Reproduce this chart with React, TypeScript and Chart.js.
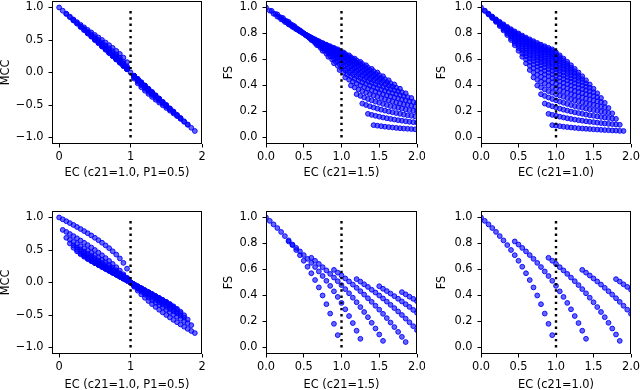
import { useEffect, useRef } from "react";
import { Chart, registerables } from "chart.js";

Chart.register(...registerables);

const FONT = "'DejaVu Sans', sans-serif";
const FSIZE = 11.4;

// ---------- EC contributions (x values) ----------
const ecFN = [0, 0.05, 0.1, 0.15, 0.2, 0.25, 0.3, 0.35, 0.4, 0.45, 0.5, 0.55, 0.6, 0.65, 0.7, 0.75, 0.8, 0.85, 0.9, 0.95];
const ecFNc15 = [0, 0.075, 0.15, 0.225, 0.3, 0.375, 0.45, 0.525, 0.6, 0.675, 0.75, 0.825, 0.9, 0.975, 1.05, 1.125, 1.2, 1.275, 1.35, 1.425];
const ecFP = [0, 0.05, 0.1, 0.15, 0.2, 0.25, 0.3, 0.35, 0.4, 0.45, 0.5, 0.55, 0.6, 0.65, 0.7, 0.75, 0.8, 0.85, 0.9, 0.95];
const ecTopLeft = [0, 0.05, 0.1, 0.15, 0.2, 0.25, 0.3, 0.35, 0.4, 0.45, 0.5, 0.55, 0.6, 0.65, 0.7, 0.75, 0.8, 0.85, 0.9, 0.95, 1.0, 1.05, 1.1, 1.15, 1.2, 1.25, 1.3, 1.35, 1.4, 1.45, 1.5, 1.55, 1.6, 1.65, 1.7, 1.75, 1.8, 1.85, 1.9];
const ecFPBottomLeft = [0, 0.05, 0.1, 0.15, 0.2, 0.25, 0.3, 0.35, 0.4, 0.45, 0.5, 0.55, 0.6, 0.65, 0.7, 0.75, 0.8, 0.85, 0.9, 0.95];
const ecFPBottomMid = [0, 0.3, 0.6, 0.9, 1.2, 1.5, 1.8];
const ecFPBottomRight = [0, 0.45, 0.9, 1.35, 1.8];

// ---------- tick values ----------
const mccTicks = [-1, -0.5, 0, 0.5, 1];
const fsTicks = [0, 0.2, 0.4, 0.6, 0.8, 1];
const ecTicksMCC = [0, 1, 2];
const ecTicksFS = [0, 0.5, 1, 1.5, 2];

// ---------- top-left: MCC values at each EC value ----------
const mccTopLeft = [
  [1.0], [0.951], [0.9, 0.905], [0.851, 0.86], [0.8, 0.804, 0.816], [0.751, 0.759, 0.775],
  [0.7, 0.704, 0.714, 0.734], [0.651, 0.657, 0.671, 0.694], [0.6, 0.603, 0.612, 0.629, 0.655],
  [0.551, 0.556, 0.568, 0.587, 0.616], [0.5, 0.503, 0.51, 0.524, 0.546, 0.577],
  [0.451, 0.455, 0.465, 0.48, 0.504, 0.539], [0.4, 0.402, 0.408, 0.419, 0.436, 0.462, 0.5],
  [0.35, 0.354, 0.361, 0.374, 0.392, 0.419, 0.461], [0.3, 0.302, 0.306, 0.314, 0.327, 0.346, 0.375, 0.42],
  [0.25, 0.253, 0.258, 0.267, 0.28, 0.299, 0.329, 0.378], [0.2, 0.201, 0.204, 0.21, 0.218, 0.231, 0.25, 0.28, 0.333],
  [0.15, 0.152, 0.155, 0.16, 0.168, 0.18, 0.197, 0.227, 0.285], [0.1, 0.1, 0.102, 0.105, 0.109, 0.115, 0.125, 0.14, 0.167, 0.229],
  [0.05, 0.051, 0.052, 0.053, 0.056, 0.06, 0.066, 0.076, 0.095, 0.16], [0],
  [-0.05, -0.051, -0.052, -0.053, -0.056, -0.06, -0.066, -0.076, -0.095],
  [-0.1, -0.1, -0.102, -0.105, -0.109, -0.115, -0.125, -0.14, -0.167],
  [-0.15, -0.152, -0.155, -0.16, -0.168, -0.18, -0.197, -0.227],
  [-0.2, -0.201, -0.204, -0.21, -0.218, -0.231, -0.25, -0.28],
  [-0.25, -0.253, -0.258, -0.267, -0.28, -0.299, -0.329],
  [-0.3, -0.302, -0.306, -0.314, -0.327, -0.346, -0.375],
  [-0.35, -0.354, -0.361, -0.374, -0.392, -0.419],
  [-0.4, -0.402, -0.408, -0.419, -0.436, -0.462],
  [-0.451, -0.455, -0.465, -0.48, -0.504], [-0.5, -0.503, -0.51, -0.524, -0.546],
  [-0.551, -0.556, -0.568, -0.587], [-0.6, -0.603, -0.612, -0.629],
  [-0.651, -0.657, -0.671], [-0.7, -0.704, -0.714], [-0.751, -0.759], [-0.8, -0.804], [-0.851], [-0.9],
];

// ---------- top-middle & top-right: FS (rows = FN count, columns = FP count) ----------
const fsTop = [
  [1.0, 0.976, 0.952, 0.93, 0.909, 0.889, 0.87, 0.851, 0.833, 0.816, 0.8, 0.784, 0.769, 0.755, 0.741, 0.727, 0.714, 0.702, 0.69, 0.678],
  [0.974, 0.95, 0.927, 0.905, 0.884, 0.864, 0.844, 0.826, 0.809, 0.792, 0.776, 0.76, 0.745, 0.731, 0.717, 0.704, 0.691, 0.679, 0.667, 0.655],
  [0.947, 0.923, 0.9, 0.878, 0.857, 0.837, 0.818, 0.8, 0.783, 0.766, 0.75, 0.735, 0.72, 0.706, 0.692, 0.679, 0.667, 0.655, 0.643, 0.632],
  [0.919, 0.895, 0.872, 0.85, 0.829, 0.81, 0.791, 0.773, 0.756, 0.739, 0.723, 0.708, 0.694, 0.68, 0.667, 0.654, 0.642, 0.63, 0.618, 0.607],
  [0.889, 0.865, 0.842, 0.821, 0.8, 0.78, 0.762, 0.744, 0.727, 0.711, 0.696, 0.681, 0.667, 0.653, 0.64, 0.627, 0.615, 0.604, 0.593, 0.582],
  [0.857, 0.833, 0.811, 0.789, 0.769, 0.75, 0.732, 0.714, 0.698, 0.682, 0.667, 0.652, 0.638, 0.625, 0.612, 0.6, 0.588, 0.577, 0.566, 0.556],
  [0.824, 0.8, 0.778, 0.757, 0.737, 0.718, 0.7, 0.683, 0.667, 0.651, 0.636, 0.622, 0.609, 0.596, 0.583, 0.571, 0.56, 0.549, 0.538, 0.528],
  [0.788, 0.765, 0.743, 0.722, 0.703, 0.684, 0.667, 0.65, 0.634, 0.619, 0.605, 0.591, 0.578, 0.565, 0.553, 0.542, 0.531, 0.52, 0.51, 0.5],
  [0.75, 0.727, 0.706, 0.686, 0.667, 0.649, 0.632, 0.615, 0.6, 0.585, 0.571, 0.558, 0.545, 0.533, 0.522, 0.511, 0.5, 0.49, 0.48, 0.471],
  [0.71, 0.688, 0.667, 0.647, 0.629, 0.611, 0.595, 0.579, 0.564, 0.55, 0.537, 0.524, 0.512, 0.5, 0.489, 0.478, 0.468, 0.458, 0.449, 0.44],
  [0.667, 0.645, 0.625, 0.606, 0.588, 0.571, 0.556, 0.541, 0.526, 0.513, 0.5, 0.488, 0.476, 0.465, 0.455, 0.444, 0.435, 0.426, 0.417, 0.408],
  [0.621, 0.6, 0.581, 0.563, 0.545, 0.529, 0.514, 0.5, 0.486, 0.474, 0.462, 0.45, 0.439, 0.429, 0.419, 0.409, 0.4, 0.391, 0.383, 0.375],
  [0.571, 0.552, 0.533, 0.516, 0.5, 0.485, 0.471, 0.457, 0.444, 0.432, 0.421, 0.41, 0.4, 0.39, 0.381, 0.372, 0.364, 0.356, 0.348, 0.34],
  [0.519, 0.5, 0.483, 0.467, 0.452, 0.438, 0.424, 0.412, 0.4, 0.389, 0.378, 0.368, 0.359, 0.35, 0.341, 0.333, 0.326, 0.318, 0.311, 0.304],
  [0.462, 0.444, 0.429, 0.414, 0.4, 0.387, 0.375, 0.364, 0.353, 0.343, 0.333, 0.324, 0.316, 0.308, 0.3, 0.293, 0.286, 0.279, 0.273, 0.267],
  [0.4, 0.385, 0.37, 0.357, 0.345, 0.333, 0.323, 0.313, 0.303, 0.294, 0.286, 0.278, 0.27, 0.263, 0.256, 0.25, 0.244, 0.238, 0.233, 0.227],
  [0.333, 0.32, 0.308, 0.296, 0.286, 0.276, 0.267, 0.258, 0.25, 0.242, 0.235, 0.229, 0.222, 0.216, 0.211, 0.205, 0.2, 0.195, 0.19, 0.186],
  [0.261, 0.25, 0.24, 0.231, 0.222, 0.214, 0.207, 0.2, 0.194, 0.188, 0.182, 0.176, 0.171, 0.167, 0.162, 0.158, 0.154, 0.15, 0.146, 0.143],
  [0.182, 0.174, 0.167, 0.16, 0.154, 0.148, 0.143, 0.138, 0.133, 0.129, 0.125, 0.121, 0.118, 0.114, 0.111, 0.108, 0.105, 0.103, 0.1, 0.098],
  [0.095, 0.091, 0.087, 0.083, 0.08, 0.077, 0.074, 0.071, 0.069, 0.067, 0.065, 0.063, 0.061, 0.059, 0.057, 0.056, 0.054, 0.053, 0.051, 0.05],
];

// ---------- bottom-left: MCC (rows = FP step, columns = FN count) ----------
const mccBottom = [
  [1.0, 0.972, 0.943, 0.914, 0.885, 0.854, 0.823, 0.791, 0.758, 0.724, 0.688, 0.651, 0.612, 0.571, 0.528, 0.48, 0.429, 0.37, 0.302, 0.213],
  [0.809, 0.778, 0.746, 0.714, 0.68, 0.646, 0.611, 0.575, 0.538, 0.5, 0.46, 0.419, 0.376, 0.332, 0.285, 0.235, 0.183, 0.126, 0.066, 0.0],
  [0.688, 0.657, 0.625, 0.592, 0.559, 0.525, 0.491, 0.456, 0.42, 0.383, 0.346, 0.307, 0.268, 0.227, 0.185, 0.141, 0.096, 0.049, 0.0, -0.051],
  [0.601, 0.57, 0.539, 0.507, 0.475, 0.442, 0.409, 0.375, 0.341, 0.306, 0.27, 0.234, 0.197, 0.16, 0.121, 0.082, 0.041, 0.0, -0.043, -0.086],
  [0.535, 0.504, 0.473, 0.442, 0.41, 0.379, 0.346, 0.314, 0.281, 0.248, 0.214, 0.18, 0.145, 0.11, 0.074, 0.037, 0.0, -0.038, -0.076, -0.116],
  [0.48, 0.45, 0.42, 0.389, 0.358, 0.327, 0.296, 0.264, 0.233, 0.2, 0.168, 0.135, 0.102, 0.068, 0.034, 0.0, -0.035, -0.07, -0.106, -0.143],
  [0.435, 0.405, 0.375, 0.345, 0.314, 0.284, 0.253, 0.222, 0.191, 0.16, 0.129, 0.097, 0.065, 0.033, 0.0, -0.033, -0.066, -0.1, -0.134, -0.168],
  [0.396, 0.366, 0.336, 0.306, 0.276, 0.246, 0.216, 0.185, 0.155, 0.124, 0.093, 0.063, 0.031, 0.0, -0.032, -0.063, -0.095, -0.128, -0.16, -0.193],
  [0.361, 0.331, 0.302, 0.272, 0.242, 0.212, 0.182, 0.152, 0.122, 0.091, 0.061, 0.031, 0.0, -0.031, -0.062, -0.092, -0.124, -0.155, -0.186, -0.218],
  [0.33, 0.3, 0.27, 0.24, 0.21, 0.18, 0.15, 0.12, 0.09, 0.06, 0.03, 0.0, -0.03, -0.06, -0.091, -0.121, -0.152, -0.182, -0.213, -0.244],
  [0.302, 0.271, 0.241, 0.211, 0.18, 0.15, 0.12, 0.09, 0.06, 0.03, 0.0, -0.03, -0.06, -0.09, -0.12, -0.15, -0.18, -0.211, -0.241, -0.271],
  [0.275, 0.244, 0.213, 0.182, 0.152, 0.121, 0.091, 0.06, 0.03, 0.0, -0.03, -0.06, -0.09, -0.12, -0.15, -0.18, -0.21, -0.24, -0.27, -0.3],
  [0.25, 0.218, 0.186, 0.155, 0.124, 0.092, 0.062, 0.031, 0.0, -0.031, -0.061, -0.091, -0.122, -0.152, -0.182, -0.212, -0.242, -0.272, -0.302, -0.331],
  [0.226, 0.193, 0.16, 0.128, 0.095, 0.063, 0.032, 0.0, -0.031, -0.063, -0.093, -0.124, -0.155, -0.185, -0.216, -0.246, -0.276, -0.306, -0.336, -0.366],
  [0.203, 0.168, 0.134, 0.1, 0.066, 0.033, 0.0, -0.033, -0.065, -0.097, -0.129, -0.16, -0.191, -0.222, -0.253, -0.284, -0.314, -0.345, -0.375, -0.405],
  [0.18, 0.143, 0.106, 0.07, 0.035, 0.0, -0.034, -0.068, -0.102, -0.135, -0.168, -0.2, -0.233, -0.264, -0.296, -0.327, -0.358, -0.389, -0.42, -0.45],
  [0.156, 0.116, 0.076, 0.038, 0.0, -0.037, -0.074, -0.11, -0.145, -0.18, -0.214, -0.248, -0.281, -0.314, -0.346, -0.379, -0.41, -0.442, -0.473, -0.504],
  [0.132, 0.086, 0.043, 0.0, -0.041, -0.082, -0.121, -0.16, -0.197, -0.234, -0.27, -0.306, -0.341, -0.375, -0.409, -0.442, -0.475, -0.507, -0.539, -0.57],
  [0.105, 0.051, 0.0, -0.049, -0.096, -0.141, -0.185, -0.227, -0.268, -0.307, -0.346, -0.383, -0.42, -0.456, -0.491, -0.525, -0.559, -0.592, -0.625, -0.657],
  [0.072, 0.0, -0.066, -0.126, -0.183, -0.235, -0.285, -0.332, -0.376, -0.419, -0.46, -0.5, -0.538, -0.575, -0.611, -0.646, -0.68, -0.714, -0.746, -0.778],
];

// ---------- bottom-middle & bottom-right: FS (rows = FP step, columns = FN count) ----------
const fsBottom = [
  [1.0, 0.974, 0.947, 0.919, 0.889, 0.857, 0.824, 0.788, 0.75, 0.71, 0.667, 0.621, 0.571, 0.519, 0.462, 0.4, 0.333, 0.261, 0.182, 0.095],
  [0.816, 0.792, 0.766, 0.739, 0.711, 0.682, 0.651, 0.619, 0.585, 0.55, 0.513, 0.474, 0.432, 0.389, 0.343, 0.294, 0.242, 0.188, 0.129, 0.067],
  [0.69, 0.667, 0.643, 0.618, 0.593, 0.566, 0.538, 0.51, 0.48, 0.449, 0.417, 0.383, 0.348, 0.311, 0.273, 0.233, 0.19, 0.146, 0.1, 0.051],
  [0.597, 0.576, 0.554, 0.531, 0.508, 0.484, 0.459, 0.433, 0.407, 0.379, 0.351, 0.321, 0.291, 0.259, 0.226, 0.192, 0.157, 0.12, 0.082, 0.042],
  [0.526, 0.507, 0.486, 0.466, 0.444, 0.423, 0.4, 0.377, 0.353, 0.328, 0.303, 0.277, 0.25, 0.222, 0.194, 0.164, 0.133, 0.102, 0.069, 0.035],
  [0.471, 0.452, 0.434, 0.415, 0.395, 0.375, 0.354, 0.333, 0.312, 0.289, 0.267, 0.243, 0.219, 0.194, 0.169, 0.143, 0.116, 0.088, 0.06, 0.03],
  [0.426, 0.409, 0.391, 0.374, 0.356, 0.337, 0.318, 0.299, 0.279, 0.259, 0.238, 0.217, 0.195, 0.173, 0.15, 0.127, 0.103, 0.078, 0.053, 0.027],
];

type Pt = { x: number; y: number };

function gridPoints(rowEC: number[], colEC: number[], table: number[][]): Pt[] {
  const pts: Pt[] = [];
  rowEC.forEach((rx, i) => {
    table[i].forEach((y, j) => pts.push({ x: rx + colEC[j], y }));
  });
  return pts;
}

function groupedPoints(ec: number[], groups: number[][]): Pt[] {
  const pts: Pt[] = [];
  ec.forEach((x, i) => groups[i].forEach((y) => pts.push({ x, y })));
  return pts;
}

const framePlugin = {
  id: "frame",
  afterDatasetsDraw(chart: any) {
    const { ctx, chartArea } = chart;
    const l = Math.round(chartArea.left) + 0.5;
    const t = Math.round(chartArea.top) + 0.5;
    const r = Math.round(chartArea.right) - 0.5;
    const b = Math.round(chartArea.bottom) - 0.5;
    ctx.save();
    ctx.strokeStyle = "#000";
    ctx.lineWidth = 1;
    ctx.strokeRect(l, t, r - l, b - t);
    ctx.restore();
  },
};

type PanelProps = {
  left: number; top: number; width: number; height: number;
  padTop: number; padRight: number; yAxisW: number; xAxisH: number;
  xTitlePad: number; yTitlePad: number;
  xMin: number; xMax: number; xTicks: number[]; xDec: number;
  yMin: number; yMax: number; yTicks: number[];
  vline: [number, number];
  xTitle: string; yTitle: string;
  points: Pt[];
};

const fmt = (v: number, dec: number) => Number(v).toFixed(dec).replace("-", "\u2212");

function Panel(p: PanelProps) {
  const ref = useRef<HTMLCanvasElement>(null);
  useEffect(() => {
    if (!ref.current) return;
    const tickFont = { family: FONT, size: FSIZE };
    const zeroPad = (s: any) => {
      s.paddingLeft = 0; s.paddingRight = 0; s.paddingTop = 0; s.paddingBottom = 0;
    };
    const chart = new Chart(ref.current, {
      type: "scatter",
      data: {
        datasets: [
          {
            type: "line",
            data: [{ x: 1, y: p.vline[0] }, { x: 1, y: p.vline[1] }],
            borderColor: "#000",
            borderWidth: 2.4,
            borderDash: [2.4, 3.8],
            borderCapStyle: "butt",
            pointRadius: 0,
            fill: false,
            clip: 0,
          } as any,
          {
            type: "scatter",
            data: p.points,
            pointRadius: 2.4,
            pointBorderWidth: 1,
            pointBackgroundColor: "rgba(0,0,255,0.6)",
            pointBorderColor: "rgba(0,0,255,0.9)",
            clip: 0,
          } as any,
        ],
      },
      options: {
        animation: false,
        responsive: false,
        devicePixelRatio: 1,
        events: [],
        layout: { autoPadding: false, padding: { top: p.padTop, right: p.padRight, left: 0, bottom: 0 } } as any,
        plugins: { legend: { display: false }, tooltip: { enabled: false }, title: { display: false } },
        scales: {
          x: {
            type: "linear",
            position: "bottom",
            min: p.xMin,
            max: p.xMax,
            afterBuildTicks: (s: any) => { s.ticks = p.xTicks.map((v) => ({ value: v })); },
            afterFit: (s: any) => { s.height = p.xAxisH; zeroPad(s); },
            ticks: {
              color: "#000", font: tickFont, padding: 3, maxRotation: 0, autoSkip: false,
              callback: (v: any) => fmt(v, p.xDec),
            },
            grid: { drawOnChartArea: false, drawTicks: true, tickLength: 3.5, color: "#000", lineWidth: 1 },
            border: { display: false },
            title: {
              display: true, text: p.xTitle, color: "#000",
              font: { family: FONT, size: FSIZE, lineHeight: 1 },
              padding: { top: 0, bottom: p.xTitlePad },
            },
          },
          y: {
            type: "linear",
            position: "left",
            min: p.yMin,
            max: p.yMax,
            afterBuildTicks: (s: any) => { s.ticks = p.yTicks.map((v) => ({ value: v })); },
            afterFit: (s: any) => { s.width = p.yAxisW; zeroPad(s); },
            ticks: {
              color: "#000", font: tickFont, padding: 5, autoSkip: false,
              callback: (v: any) => fmt(v, 1),
            },
            grid: { drawOnChartArea: false, drawTicks: true, tickLength: 3.5, color: "#000", lineWidth: 1 },
            border: { display: false },
            title: {
              display: true, text: p.yTitle, color: "#000",
              font: { family: FONT, size: FSIZE, lineHeight: 1 },
              padding: { top: p.yTitlePad, bottom: 0 },
            },
          },
        },
      } as any,
      plugins: [framePlugin],
    });
    return () => chart.destroy();
  }, []);
  return (
    <canvas
      ref={ref}
      width={p.width}
      height={p.height}
      style={{ position: "absolute", left: p.left, top: p.top, width: p.width, height: p.height }}
    />
  );
}

const mccAxis = { xMin: -0.1, xMax: 2.0, xTicks: ecTicksMCC, xDec: 0, yMin: -1.1, yMax: 1.1, yTicks: mccTicks, vline: [-1, 1] as [number, number], yTitle: "MCC" };
const fsAxis = { xMin: 0, xMax: 2.0, xTicks: ecTicksFS, xDec: 1, yMin: -0.05, yMax: 1.05, yTicks: fsTicks, vline: [0, 1] as [number, number], yTitle: "FS" };
const topRow = { top: 0, height: 195, padTop: 1, xAxisH: 51, xTitlePad: 16.3 };
const bottomRow = { top: 195, height: 195, padTop: 16, xAxisH: 36, xTitlePad: -0.7 };
const col1 = { left: 0, width: 210, yAxisW: 52, padRight: 8, yTitlePad: 0 };
const col2 = { left: 210, width: 215, yAxisW: 56, padRight: 8, yTitlePad: 13.8 };
const col3 = { left: 425, width: 215, yAxisW: 56, padRight: 9, yTitlePad: 11.8 };

export default function App() {
  const ptsTL = groupedPoints(ecTopLeft, mccTopLeft);
  const ptsTM = gridPoints(ecFNc15, ecFP, fsTop);
  const ptsTR = gridPoints(ecFN, ecFP, fsTop);
  const ptsBL = gridPoints(ecFPBottomLeft, ecFN, mccBottom);
  const ptsBM = gridPoints(ecFPBottomMid, ecFN, fsBottom);
  const ptsBR = gridPoints(ecFPBottomRight, ecFN, fsBottom);
  return (
    <div style={{ position: "absolute", left: 0, top: 0, width: 640, height: 390, background: "#fff", overflow: "hidden" }}>
      <Panel {...topRow} {...col1} {...mccAxis} xTitle="EC (c21=1.0, P1=0.5)" points={ptsTL} />
      <Panel {...topRow} {...col2} {...fsAxis} xTitle="EC (c21=1.5)" points={ptsTM} />
      <Panel {...topRow} {...col3} {...fsAxis} xTitle="EC (c21=1.0)" points={ptsTR} />
      <Panel {...bottomRow} {...col1} {...mccAxis} xTitle="EC (c21=1.0, P1=0.5)" points={ptsBL} />
      <Panel {...bottomRow} {...col2} {...fsAxis} xTitle="EC (c21=1.5)" points={ptsBM} />
      <Panel {...bottomRow} {...col3} {...fsAxis} xTitle="EC (c21=1.0)" points={ptsBR} />
    </div>
  );
}
